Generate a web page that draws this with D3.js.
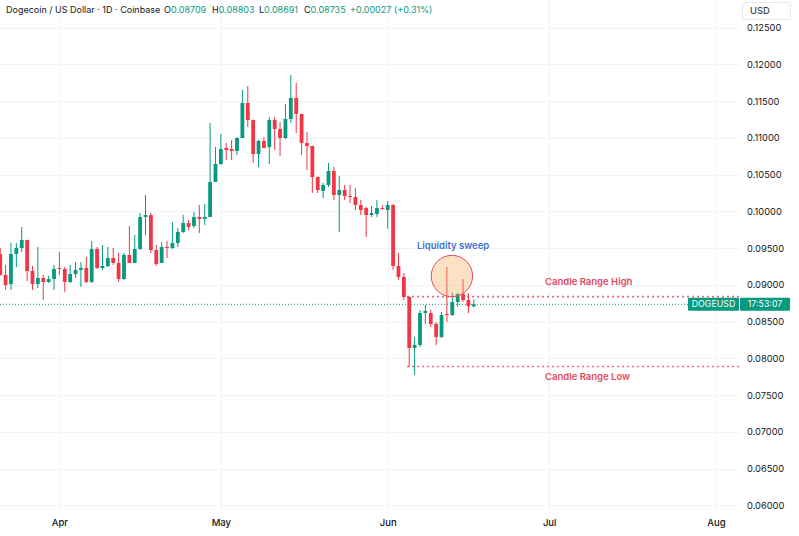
<!DOCTYPE html>
<html><head><meta charset="utf-8">
<script src="https://cdn.jsdelivr.net/npm/d3@7/dist/d3.min.js"></script>
<style>
html,body{margin:0;padding:0;background:#fff;}
svg{display:block;font-family:Inter,"Noto Sans",sans-serif;}
</style></head><body>
<svg id="chart" width="799" height="536"></svg>
<script>
// ---------- DATA ----------
const dates = [
"2024-03-21","2024-03-22","2024-03-23","2024-03-24","2024-03-25","2024-03-26","2024-03-27","2024-03-28","2024-03-29","2024-03-30","2024-03-31",
"2024-04-01","2024-04-02","2024-04-03","2024-04-04","2024-04-05","2024-04-06","2024-04-07","2024-04-08","2024-04-09","2024-04-10",
"2024-04-11","2024-04-12","2024-04-13","2024-04-14","2024-04-15","2024-04-16","2024-04-17","2024-04-18","2024-04-19","2024-04-20",
"2024-04-21","2024-04-22","2024-04-23","2024-04-24","2024-04-25","2024-04-26","2024-04-27","2024-04-28","2024-04-29","2024-04-30",
"2024-05-01","2024-05-02","2024-05-03","2024-05-04","2024-05-05","2024-05-06","2024-05-07","2024-05-08","2024-05-09","2024-05-10",
"2024-05-11","2024-05-12","2024-05-13","2024-05-14","2024-05-15","2024-05-16","2024-05-17","2024-05-18","2024-05-19","2024-05-20",
"2024-05-21","2024-05-22","2024-05-23","2024-05-24","2024-05-25","2024-05-26","2024-05-27","2024-05-28","2024-05-29","2024-05-30",
"2024-05-31","2024-06-01","2024-06-02","2024-06-03","2024-06-04","2024-06-05","2024-06-06","2024-06-07","2024-06-08","2024-06-09",
"2024-06-10","2024-06-11","2024-06-12","2024-06-13","2024-06-14","2024-06-15","2024-06-16","2024-06-17"];
const opens = [0.09420,0.09135,0.09012,0.09420,0.09502,0.09611,0.09189,0.09012,0.09094,0.09039,0.09080,
0.09230,0.09216,0.09039,0.09148,0.09203,0.09230,0.09039,0.09488,0.09230,0.09257,
0.09366,0.09298,0.09080,0.09407,0.09298,0.09488,0.09924,0.09951,0.09475,0.09298,
0.09516,0.09502,0.09570,0.09720,0.09842,0.09801,0.09924,0.09897,0.09924,0.10400,
0.10645,0.10863,0.10849,0.10822,0.10999,0.11475,0.11244,0.10781,0.10958,0.10877,
0.11244,0.11121,0.10999,0.11258,0.11543,0.11326,0.10931,0.10890,0.10468,0.10278,
0.10359,0.10550,0.10223,0.10291,0.10210,0.10196,0.10087,0.10046,0.09951,0.09965,
0.10046,0.10019,0.10087,0.09257,0.09107,0.08835,0.08141,0.08182,0.08617,0.08617,
0.08468,0.08291,0.08604,0.08590,0.08767,0.08876,0.08794,0.08709];
const highs = [0.09502,0.09271,0.09570,0.09570,0.09788,0.09615,0.09257,0.09516,0.09135,0.09121,0.09271,
0.09448,0.09243,0.09271,0.09311,0.09311,0.09380,0.09597,0.09516,0.09543,0.09516,
0.09502,0.09434,0.09434,0.09801,0.09679,0.09978,0.10223,0.09978,0.09543,0.09584,
0.09597,0.09856,0.09774,0.09951,0.09883,0.09992,0.10087,0.10101,0.11203,0.10877,
0.11053,0.10931,0.10972,0.11013,0.11652,0.11707,0.11250,0.10972,0.11013,0.11285,
0.11285,0.11217,0.11462,0.11856,0.11748,0.11330,0.11081,0.10895,0.10472,0.10387,
0.10659,0.10604,0.10482,0.10359,0.10359,0.10319,0.10155,0.10060,0.10074,0.10155,
0.10087,0.10142,0.10101,0.09434,0.09162,0.08842,0.08291,0.08658,0.08726,0.08658,
0.08495,0.08631,0.09243,0.08890,0.08890,0.09080,0.08890,0.08803];
const lows = [0.09121,0.08930,0.08930,0.09243,0.09448,0.09053,0.08930,0.08958,0.08794,0.09026,0.08930,
0.09135,0.08903,0.09026,0.09094,0.08971,0.09026,0.09026,0.09216,0.09203,0.09243,
0.09271,0.09039,0.09067,0.09298,0.09298,0.09475,0.09679,0.09434,0.09257,0.09298,
0.09366,0.09488,0.09516,0.09706,0.09747,0.09774,0.09706,0.09815,0.09924,0.10400,
0.10632,0.10700,0.10700,0.10768,0.10999,0.11149,0.10659,0.10604,0.10863,0.10645,
0.10836,0.10754,0.10985,0.11203,0.11067,0.10768,0.10564,0.10251,0.10251,0.10182,
0.10332,0.10155,0.09720,0.10155,0.10114,0.10019,0.09951,0.09652,0.09924,0.09924,
0.10019,0.09761,0.09203,0.09067,0.08794,0.07883,0.07774,0.08155,0.08468,0.08427,
0.08182,0.08277,0.08495,0.08577,0.08699,0.08767,0.08617,0.08691];
const closes = [0.09135,0.08998,0.09420,0.09502,0.09611,0.09189,0.09012,0.09094,0.09039,0.09080,0.09216,
0.09223,0.09039,0.09148,0.09203,0.09230,0.09039,0.09488,0.09230,0.09257,0.09366,
0.09298,0.09080,0.09407,0.09298,0.09488,0.09924,0.09951,0.09475,0.09284,0.09516,
0.09509,0.09570,0.09720,0.09842,0.09788,0.09924,0.09897,0.09924,0.10400,0.10645,
0.10849,0.10836,0.10822,0.10999,0.11475,0.11244,0.10781,0.10958,0.10863,0.11244,
0.11121,0.10999,0.11258,0.11543,0.11326,0.10931,0.10890,0.10468,0.10291,0.10359,
0.10550,0.10223,0.10291,0.10210,0.10196,0.10087,0.10019,0.09951,0.09978,0.10046,
0.10033,0.10087,0.09257,0.09107,0.08835,0.08141,0.08182,0.08617,0.08645,0.08468,
0.08291,0.08590,0.08590,0.08767,0.08876,0.08794,0.08709,0.08735];
const priceTicks = [0.060,0.065,0.070,0.075,0.080,0.085,0.090,0.095,0.100,0.105,0.110,0.115,0.120,0.125];
const monthTicks = ["2024-04-01","2024-05-01","2024-06-01","2024-07-01","2024-08-01"];
const lastPrice = 0.08735;
const rangeHigh = 0.0884, rangeLow = 0.0789;
const rangeStart = "2024-06-05";
const sweepDate = "2024-06-12", sweepPrice = 0.0912;
const sweepLabel = "Liquidity sweep", highLabel = "Candle Range High", lowLabel = "Candle Range Low";
const titleText = "Dogecoin / US Dollar · 1D · Coinbase";
const ohlcText = [["O","0.08709"],["H","0.08803"],["L","0.08691"],["C","0.08735"]];
const changeText = "+0.00027 (+0.31%)";
const symbolLabel = "DOGEUSD", countdown = "17:53:07", currency = "USD";

// ---------- SETUP ----------
const parse = d3.timeParse("%Y-%m-%d");
const svg = d3.select("#chart");
const plotRight = 740, plotBottom = 513;
const green = "#089981", red = "#F23645", annRed = "#e5485d", grid = "#f0f3fa", txt = "#131722";

const x = d3.scaleTime().domain([parse("2024-04-01"), parse("2024-08-01")]).range([59.4, 716]);
const y = d3.scaleLinear().domain([0.06, 0.125]).range([505.3, 27.7]);

const data = dates.map((d,i)=>({date:parse(d),o:opens[i],h:highs[i],l:lows[i],c:closes[i]}));

// grid
const gGrid = svg.append("g");
gGrid.selectAll("line.h").data(priceTicks).join("line")
  .attr("x1",0).attr("x2",plotRight).attr("y1",d=>Math.round(y(d))+0.5).attr("y2",d=>Math.round(y(d))+0.5)
  .attr("stroke",grid).attr("stroke-width",1);
gGrid.selectAll("line.v").data(monthTicks).join("line")
  .attr("x1",d=>Math.round(x(parse(d)))+0.5).attr("x2",d=>Math.round(x(parse(d)))+0.5)
  .attr("y1",0).attr("y2",plotBottom)
  .attr("stroke",grid).attr("stroke-width",1);

// current price line
svg.append("line").attr("x1",0).attr("x2",690).attr("y1",y(lastPrice)).attr("y2",y(lastPrice))
  .attr("stroke",green).attr("stroke-width",1).attr("stroke-dasharray","1 2");

// range lines
const rx = x(parse(rangeStart)) - 2;
[rangeHigh, rangeLow].forEach(p=>{
  svg.append("line").attr("x1",rx).attr("x2",plotRight).attr("y1",y(p)).attr("y2",y(p))
    .attr("stroke",annRed).attr("stroke-width",1.6).attr("stroke-dasharray","1.6 3.4");
});

// candles
const bw = 3.8;
const gC = svg.append("g");
const cg = gC.selectAll("g").data(data).join("g");
cg.append("line")
  .attr("x1",d=>x(d.date)).attr("x2",d=>x(d.date))
  .attr("y1",d=>y(d.h)).attr("y2",d=>y(d.l))
  .attr("stroke",d=>d.c>=d.o?green:red).attr("stroke-width",1);
cg.append("rect")
  .attr("x",d=>x(d.date)-bw/2).attr("width",bw)
  .attr("y",d=>y(Math.max(d.o,d.c)))
  .attr("height",d=>Math.max(1,Math.abs(y(d.o)-y(d.c))))
  .attr("fill",d=>d.c>=d.o?green:red);

// sweep circle
svg.append("circle").attr("cx",x(parse(sweepDate))+5).attr("cy",y(sweepPrice)).attr("r",20.7)
  .attr("fill","#f9a85a").attr("fill-opacity",0.35).attr("stroke","#e0506a").attr("stroke-width",1);

// annotation labels
svg.append("text").attr("x",417).attr("y",246).attr("dy","0.35em").attr("fill","#3f6fd8")
  .attr("font-size",9.5).attr("font-weight",600).text(sweepLabel);
svg.append("text").attr("x",545).attr("y",282).attr("dy","0.35em").attr("fill",annRed)
  .attr("font-size",9.5).attr("font-weight",600).text(highLabel);
svg.append("text").attr("x",545).attr("y",377).attr("dy","0.35em").attr("fill",annRed)
  .attr("font-size",9.5).attr("font-weight",600).text(lowLabel);

// y axis
const yAxis = d3.axisRight(y).tickValues(priceTicks).tickFormat(d3.format(".5f")).tickSize(0).tickPadding(7);
const gy = svg.append("g").attr("transform",`translate(${plotRight},0)`).call(yAxis);
gy.select(".domain").remove();
gy.selectAll("text").attr("fill",txt).attr("font-size",9.3).attr("font-family","Inter,sans-serif");

// x axis
const xAxis = d3.axisBottom(x).tickValues(monthTicks.map(parse)).tickFormat(d3.timeFormat("%b")).tickSize(0).tickPadding(6);
const gx = svg.append("g").attr("transform",`translate(0,${plotBottom})`).call(xAxis);
gx.select(".domain").remove();
gx.selectAll("text").attr("fill",txt).attr("font-size",9.5).attr("font-weight",500).attr("font-family","Inter,sans-serif");

// last price label
const ly = y(lastPrice);
svg.append("rect").attr("x",688).attr("y",ly-6.5).attr("width",51).attr("height",13).attr("fill",green).attr("rx",1);
svg.append("rect").attr("x",740).attr("y",ly-6.5).attr("width",50).attr("height",13).attr("fill",green).attr("rx",1);
svg.append("text").attr("x",713.5).attr("y",ly).attr("dy","0.35em").attr("text-anchor","middle")
  .attr("fill","#fff").attr("font-size",8.8).text(symbolLabel);
svg.append("text").attr("x",765).attr("y",ly).attr("dy","0.35em").attr("text-anchor","middle")
  .attr("fill","#fff").attr("font-size",8.8).text(countdown);

// USD box
svg.append("rect").attr("x",742.5).attr("y",2.5).attr("width",48).attr("height",17).attr("rx",2)
  .attr("fill","#fff").attr("stroke","#e6e8ee");
svg.append("text").attr("x",750).attr("y",11).attr("dy","0.35em").attr("fill",txt).attr("font-size",9.3).text(currency);

// title
const fs = 9;
svg.append("text").attr("x",6).attr("y",10).attr("dy","0.35em").attr("fill",txt).attr("font-size",fs).text(titleText);
const ohlcX = [164,212,259,304];
ohlcText.forEach((p,i)=>{
  const t = svg.append("text").attr("x",ohlcX[i]).attr("y",10).attr("dy","0.35em").attr("font-size",fs);
  t.append("tspan").attr("fill",txt).text(p[0]);
  t.append("tspan").attr("fill",green).text(p[1]);
});
svg.append("text").attr("x",350).attr("y",10).attr("dy","0.35em").attr("font-size",fs).attr("fill",green).text(changeText);
</script>
</body></html>
